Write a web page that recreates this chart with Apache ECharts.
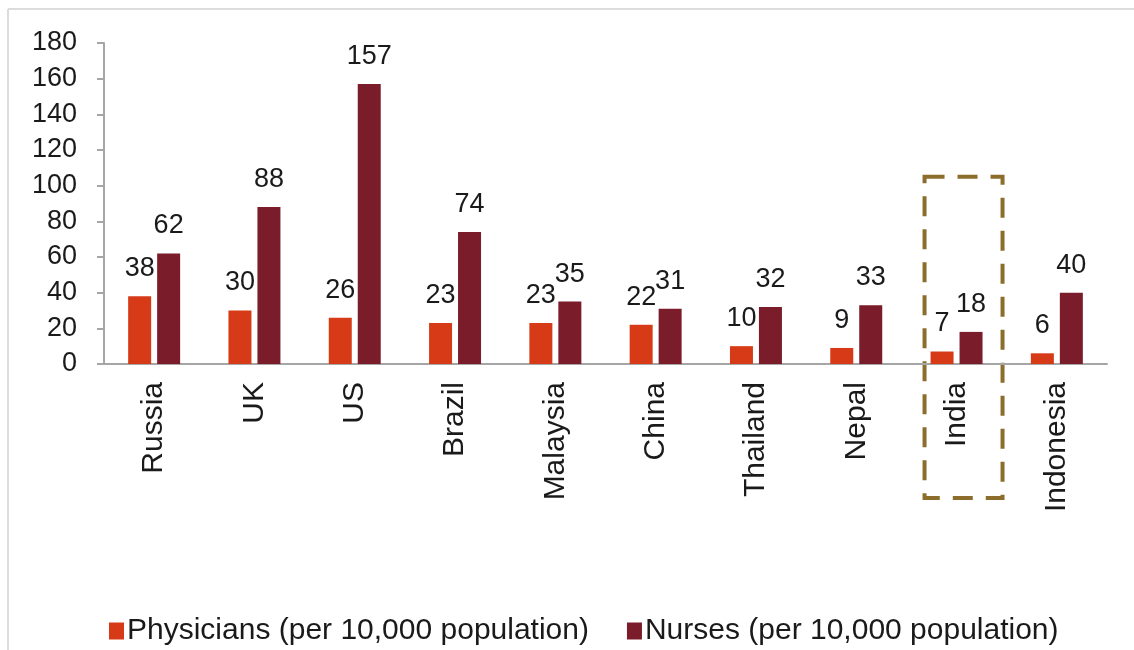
<!DOCTYPE html>
<html>
<head>
<meta charset="utf-8">
<script src="https://cdn.jsdelivr.net/npm/echarts@6/dist/echarts.min.js"></script>
<style>
html,body{margin:0;padding:0;background:#fff;}
#main{width:1134px;height:650px;}
</style>
</head>
<body>
<div id="main"></div>
<script>
const categories = ['Russia','UK','US','Brazil','Malaysia','China','Thailand','Nepal','India','Indonesia'];
const physicians = [38,30,26,23,23,22,10,9,7,6];
const nurses = [62,88,157,74,35,31,32,33,18,40];
const yTicks = [0,20,40,60,80,100,120,140,160,180];
const seriesNames = ['Physicians (per 10,000 population)','Nurses (per 10,000 population)'];
const highlightCategory = 'India';

const FONT = '"Liberation Sans", Arial, sans-serif';
const chart = echarts.init(document.getElementById('main'), null, {renderer:'canvas'});

const labelStyle = {show:true, position:'top', distance:14, color:'#1a1a1a', fontSize:27, fontFamily:FONT};

chart.setOption({
  animation:false,
  textStyle:{fontFamily:FONT},
  grid:{left:104, right:27, top:43, bottom:286, containLabel:false},
  legend:{
    data:seriesNames,
    left:104, top:611,
    itemWidth:15, itemHeight:17, itemGap:38,
    icon:'rect',
    textStyle:{fontSize:30, color:'#1a1a1a', fontFamily:FONT, padding:[0,0,0,-2]}
  },
  xAxis:{
    type:'category',
    data:categories,
    axisLine:{lineStyle:{color:'#a6a6a6', width:2}},
    axisTick:{show:false},
    axisLabel:{rotate:90, margin:18, fontSize:30, color:'#1a1a1a', fontFamily:FONT, interval:0}
  },
  yAxis:{
    type:'value',
    min:yTicks[0], max:yTicks[yTicks.length-1], interval:yTicks[1]-yTicks[0],
    splitLine:{show:false},
    axisLine:{show:true, lineStyle:{color:'#a6a6a6', width:2}},
    axisTick:{show:true, length:7, lineStyle:{color:'#a6a6a6', width:2}},
    axisLabel:{margin:27, fontSize:27, color:'#1a1a1a', fontFamily:FONT}
  },
  series:[
    {name:seriesNames[0], type:'bar', data:physicians, barWidth:23, barGap:'26%',
     itemStyle:{color:'#d63a17'}, label:labelStyle},
    {name:seriesNames[1], type:'bar', data:nurses, barWidth:23,
     itemStyle:{color:'#7b1c2a'}, label:labelStyle}
  ]
});

// frame + dashed highlight box placed from the axes
const cx = chart.convertToPixel({xAxisIndex:0}, highlightCategory);
const yTop = chart.convertToPixel({yAxisIndex:0}, 105);
chart.setOption({
  graphic:[
    {type:'line', shape:{x1:8, y1:9, x2:1134, y2:9}, style:{stroke:'#dcdcdc', lineWidth:2}, silent:true},
    {type:'line', shape:{x1:8, y1:9, x2:8, y2:650}, style:{stroke:'#dcdcdc', lineWidth:2}, silent:true},
    {type:'rect', shape:{x:cx-32, y:yTop, width:78, height:498-yTop},
     style:{fill:'none', stroke:'#8c6d2c', lineWidth:4, lineDash:[20,13]}, silent:true}
  ]
});
</script>
</body>
</html>
